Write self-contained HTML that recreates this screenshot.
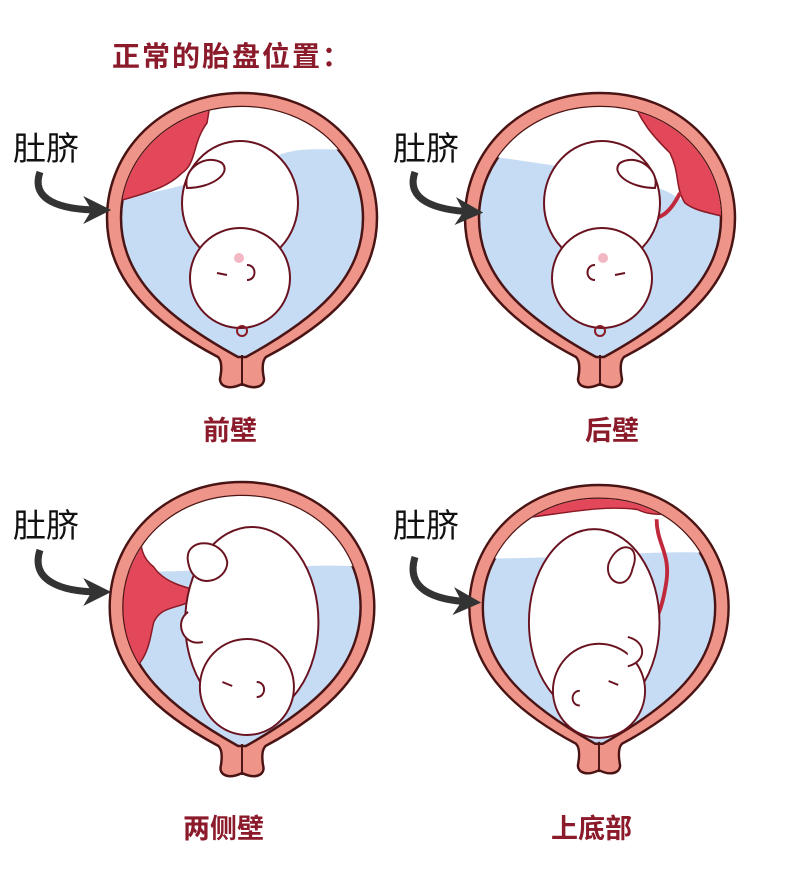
<!DOCTYPE html>
<html><head><meta charset="utf-8"><style>
html,body{margin:0;padding:0;background:#fff}
svg{display:block}
text{font-family:"Liberation Sans","Noto Sans CJK SC",sans-serif}
</style></head><body>
<svg width="800" height="874" viewBox="0 0 800 874" xmlns="http://www.w3.org/2000/svg">
<defs>
<path id="outer" d="M0,0 C80,0 135,58 135,125 C135,190 85,232 24,264 C20,268 20,276 22,286 C22,294 12,297 0,291 C-12,297 -22,294 -22,286 C-20,276 -20,268 -24,264 C-85,232 -135,190 -135,125 C-135,58 -80,0 0,0 Z"/>
<path id="inner" d="M0,14 C72,14 121,66 121,125 C121,185 75,225 4,264 L-4,264 C-75,225 -121,185 -121,125 C-121,66 -72,14 0,14 Z"/>
<clipPath id="cl"><use href="#inner"/></clipPath>
<g id="ut">
<use href="#outer" fill="#ef9488" stroke="#4a1414" stroke-width="2.5"/>
<use href="#inner" fill="#c6dcf4" stroke="#4a1414" stroke-width="2.5"/>
<line x1="0" y1="262" x2="0" y2="293" stroke="#4a1414" stroke-width="2"/>
</g>
<marker id="ah" viewBox="0 0 10 10" refX="6" refY="5" markerWidth="4" markerHeight="4" orient="auto"><path d="M0,0 L10,5 L0,10 L3,5 Z" fill="#333"/></marker>
</defs>

<text x="112" y="66" font-size="28" fill="#8b1a2a" font-weight="bold" letter-spacing="2">正常的胎盘位置：</text>

<!-- top-left 前壁 -->
<g transform="translate(242,93)">
<use href="#ut"/>
<g clip-path="url(#cl)">
<path d="M-130,0 L130,0 L130,55 C90,60 60,50 30,65 C-20,80 -70,100 -130,105 Z" fill="#fff"/>
<path d="M-130,0 L-30,0 L-35,30 C-50,50 -45,70 -60,80 C-75,95 -95,100 -130,110 Z" fill="#e2475a" stroke="#8a1a25" stroke-width="1.5"/>
</g>
<path d="M-55,95 C-50,120 -60,140 -20,130 C0,125 10,115 20,110" fill="none" stroke="#c0283c" stroke-width="4"/>
<ellipse cx="-2" cy="110" rx="58" ry="62" fill="#fff" stroke="#6a1320" stroke-width="2"/>
<circle cx="-2" cy="185" r="50" fill="#fff" stroke="#6a1320" stroke-width="2"/>
<path d="M-55,95 C-60,75 -35,60 -20,70 C-10,80 -30,95 -55,95 Z" fill="#fff" stroke="#6a1320" stroke-width="2"/>
<circle cx="-3" cy="165" r="5" fill="#f2b7c2"/>
<path d="M-25,180 l10,2 M5,172 c10,0 10,15 0,15" fill="none" stroke="#6a1320" stroke-width="2"/>
<circle cx="0" cy="238" r="5" fill="none" stroke="#8a1a25" stroke-width="2"/>
</g>
<text x="13" y="160" font-size="33" fill="#111">肚脐</text>
<path d="M40,172 C30,200 60,210 100,210" fill="none" stroke="#333" stroke-width="7" marker-end="url(#ah)"/>
<text x="203" y="440" font-size="27" fill="#8b1a2a" font-weight="bold">前壁</text>

<!-- top-right 后壁 -->
<g transform="translate(600,93)">
<use href="#ut"/>
<g clip-path="url(#cl)">
<path d="M-130,0 L130,0 L130,120 C100,115 85,110 70,100 C30,80 -70,70 -130,60 Z" fill="#fff"/>
<path d="M30,0 L130,0 L130,125 C110,120 95,118 85,110 C75,95 80,80 70,60 C55,45 40,30 30,0 Z" fill="#e2475a" stroke="#8a1a25" stroke-width="1.5"/>
</g>
<path d="M80,100 C70,120 60,130 35,125" fill="none" stroke="#c0283c" stroke-width="4"/>
<ellipse cx="2" cy="110" rx="58" ry="62" fill="#fff" stroke="#6a1320" stroke-width="2"/>
<circle cx="2" cy="185" r="50" fill="#fff" stroke="#6a1320" stroke-width="2"/>
<path d="M55,95 C60,75 35,60 20,70 C10,80 30,95 55,95 Z" fill="#fff" stroke="#6a1320" stroke-width="2"/>
<circle cx="3" cy="165" r="5" fill="#f2b7c2"/>
<path d="M25,180 l-10,2 M-5,172 c-10,0 -10,15 0,15" fill="none" stroke="#6a1320" stroke-width="2"/>
<circle cx="0" cy="238" r="5" fill="none" stroke="#8a1a25" stroke-width="2"/>
</g>
<text x="393" y="160" font-size="33" fill="#111">肚脐</text>
<path d="M415,172 C405,200 435,210 472,212" fill="none" stroke="#333" stroke-width="7" marker-end="url(#ah)"/>
<text x="585" y="440" font-size="27" fill="#8b1a2a" font-weight="bold">后壁</text>

<!-- bottom-left 两侧壁 -->
<g transform="translate(242,482) scale(0.98,1)">
<use href="#ut"/>
<g clip-path="url(#cl)">
<path d="M-130,0 L130,0 L130,85 C60,80 0,90 -130,90 Z" fill="#fff"/>
<path d="M-130,30 L-108,30 C-100,50 -110,70 -90,85 C-80,100 -60,105 -40,110 C-60,130 -80,120 -90,140 C-95,160 -95,185 -130,200 Z" fill="#e2475a" stroke="#8a1a25" stroke-width="1.5"/>
</g>
<ellipse cx="10" cy="140" rx="68" ry="95" fill="#fff" stroke="#6a1320" stroke-width="2"/>
<circle cx="5" cy="205" r="48" fill="#fff" stroke="#6a1320" stroke-width="2"/>
<path d="M-55,80 C-60,55 -20,55 -15,80 C-15,100 -50,110 -55,80 Z" fill="#fff" stroke="#6a1320" stroke-width="2"/>
<path d="M-55,130 C-70,140 -60,165 -40,160" fill="#fff" stroke="#6a1320" stroke-width="2"/>
<path d="M-20,200 l10,4 M15,200 c10,0 10,15 0,15" fill="none" stroke="#6a1320" stroke-width="2"/>
</g>
<text x="13" y="537" font-size="33" fill="#111">肚脐</text>
<path d="M40,550 C30,580 60,592 100,592" fill="none" stroke="#333" stroke-width="7" marker-end="url(#ah)"/>
<text x="183" y="838" font-size="27" fill="#8b1a2a" font-weight="bold">两侧壁</text>

<!-- bottom-right 上底部 -->
<g transform="translate(599,485) scale(0.96,0.98)">
<use href="#ut"/>
<g clip-path="url(#cl)">
<path d="M-130,0 L130,0 L130,70 C60,65 0,75 -130,75 Z" fill="#fff"/>
<path d="M-90,0 L90,0 L110,35 C80,25 60,35 40,25 C0,20 -40,30 -90,35 Z" fill="#e2475a" stroke="#8a1a25" stroke-width="1.5"/>
</g>
<path d="M60,35 C60,60 75,70 70,100 C65,130 60,140 45,150" fill="none" stroke="#c0283c" stroke-width="4"/>
<ellipse cx="-5" cy="140" rx="68" ry="95" fill="#fff" stroke="#6a1320" stroke-width="2"/>
<circle cx="0" cy="210" r="48" fill="#fff" stroke="#6a1320" stroke-width="2"/>
<path d="M35,85 C45,60 20,55 10,80 C5,100 30,110 35,85 Z" fill="#fff" stroke="#6a1320" stroke-width="2"/>
<path d="M30,155 C50,160 50,180 30,185" fill="#fff" stroke="#6a1320" stroke-width="2"/>
<path d="M10,200 l10,4 M-20,210 c-10,0 -10,15 0,15" fill="none" stroke="#6a1320" stroke-width="2"/>
</g>
<text x="393" y="537" font-size="33" fill="#111">肚脐</text>
<path d="M415,557 C405,590 435,600 470,602" fill="none" stroke="#333" stroke-width="7" marker-end="url(#ah)"/>
<text x="551" y="838" font-size="27" fill="#8b1a2a" font-weight="bold">上底部</text>
</svg>
</body></html>
